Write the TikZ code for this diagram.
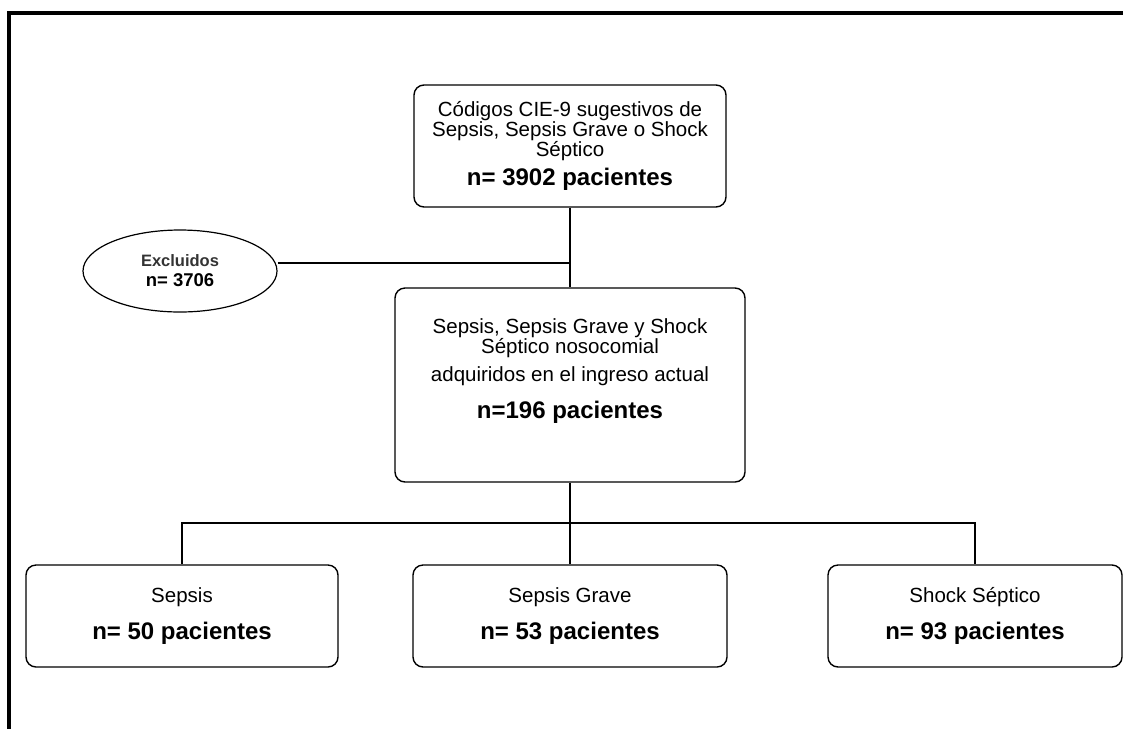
\documentclass[tikz,border=0pt]{standalone}
\usepackage{fontspec}
\setmainfont{Liberation Sans}
\usetikzlibrary{shapes.geometric}
\newcommand{\pac}[1]{{\fontsize{24}{26}\selectfont\bfseries #1}}

\begin{document}
\begin{tikzpicture}[x=1pt,y=-1pt,
   font=\fontsize{20.5}{20}\selectfont,
   caja/.style={draw,rounded corners=10pt,line width=1.4pt,align=center,inner sep=0pt},
   excl/.style={draw,ellipse,line width=1.2pt,align=center,inner sep=0pt,
      minimum width=194,minimum height=82,font=\fontsize{16.5}{20}\selectfont\bfseries},
   linea/.style={line width=1.2pt},
   marco/.style={line width=3.5pt}]
\useasboundingbox (0,0) rectangle (1123,729);
\draw[marco] (1123,13) -- (9,13) -- (9,729);
\node[caja,minimum width=312,minimum height=122] (codigos) at (570,146)
   {Códigos CIE-9 sugestivos de\\Sepsis, Sepsis Grave o Shock\\Séptico\\[6pt]\pac{n= 3902 pacientes}};
\node[excl] (excluidos) at (180,271) {\textcolor{black!80}{Excluidos}\\{\fontsize{18.5}{20}\selectfont n= 3706}};
\node[caja,minimum width=350,minimum height=194] (nosocomial) at (570,385) {};
\node[align=center] (nosotexto) at (570,371)
   {Sepsis, Sepsis Grave y Shock\\Séptico nosocomial\\[8pt]adquiridos en el ingreso actual\\[15pt]\pac{n=196 pacientes}};
\node[caja,minimum width=312,minimum height=102] (sepsis) at (182,616) {Sepsis\\[14pt]\pac{n= 50 pacientes}};
\node[caja,minimum width=314,minimum height=102] (grave) at (570,616) {Sepsis Grave\\[14pt]\pac{n= 53 pacientes}};
\node[caja,minimum width=294,minimum height=102] (shock) at (975,616) {Shock Séptico\\[14pt]\pac{n= 93 pacientes}};
\coordinate (cruce) at (570,263);
\coordinate (rama) at (570,523);
\draw[linea] (codigos) -- (nosocomial);
\draw[linea] (excluidos.east |- cruce) -- (cruce);
\draw[linea] (nosocomial) -- (rama);
\draw[linea] (rama) -| (sepsis.north);
\draw[linea] (rama) -| (shock.north);
\draw[linea] (rama) -- (grave);
\end{tikzpicture}
\end{document}
